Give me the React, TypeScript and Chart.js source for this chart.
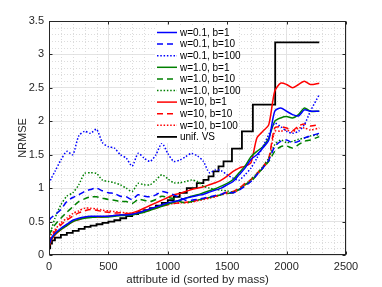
import React, { useEffect, useRef } from "react";
import { Chart, registerables } from "chart.js";
Chart.register(...registerables);

const X = [0, 20, 50, 100, 150, 200, 250, 300, 350, 400, 450, 500, 550, 600, 650, 700, 750, 800, 850, 900, 950, 1000, 1050, 1100, 1150, 1200, 1250, 1300, 1350, 1400, 1450, 1500, 1550, 1600, 1650, 1700, 1750, 1800, 1850, 1900, 1950, 2000, 2050, 2100, 2150, 2200, 2275];

const blueSolid = [0.15, 0.25, 0.32, 0.4, 0.46, 0.52, 0.55, 0.57, 0.58, 0.58, 0.58, 0.58, 0.59, 0.6, 0.6, 0.61, 0.63, 0.66, 0.69, 0.72, 0.75, 0.78, 0.8, 0.82, 0.85, 0.87, 0.89, 0.91, 0.94, 0.97, 1.0, 1.05, 1.1, 1.2, 1.3, 1.43, 1.5, 1.6, 1.72, 2.15, 2.2, 2.15, 2.1, 2.08, 2.17, 2.15, 2.15];
const blueDashed = [0.52, 0.56, 0.6, 0.68, 0.8, 0.86, 0.9, 0.95, 0.98, 1.0, 0.96, 0.93, 0.92, 0.88, 0.87, 0.83, 0.9, 0.88, 0.87, 0.9, 0.95, 0.93, 0.9, 0.86, 0.82, 0.82, 0.83, 0.85, 0.87, 0.89, 0.91, 0.94, 0.93, 0.97, 1.03, 1.1, 1.2, 1.3, 1.42, 1.62, 1.7, 1.72, 1.68, 1.7, 1.75, 1.78, 1.82];
const blueDotted = [1.07, 1.15, 1.25, 1.42, 1.55, 1.5, 1.78, 1.85, 1.82, 1.88, 1.68, 1.62, 1.6, 1.5, 1.45, 1.33, 1.52, 1.45, 1.4, 1.5, 1.67, 1.52, 1.4, 1.42, 1.47, 1.52, 1.48, 1.4, 1.23, 1.27, 1.26, 1.2, 1.15, 1.12, 1.2, 1.3, 1.45, 1.62, 1.8, 1.97, 1.92, 1.85, 1.82, 1.85, 1.95, 2.15, 2.4];
const greenSolid = [0.15, 0.24, 0.31, 0.38, 0.44, 0.5, 0.53, 0.55, 0.56, 0.57, 0.57, 0.57, 0.58, 0.59, 0.59, 0.6, 0.62, 0.64, 0.67, 0.7, 0.73, 0.76, 0.79, 0.82, 0.85, 0.88, 0.9, 0.93, 0.96, 0.99, 1.03, 1.07, 1.13, 1.23, 1.33, 1.47, 1.55, 1.62, 1.75, 2.0, 2.05, 2.07, 2.05, 2.1, 2.2, 2.15, 2.15];
const greenDashed = [0.3, 0.36, 0.45, 0.55, 0.64, 0.72, 0.8, 0.84, 0.87, 0.87, 0.85, 0.83, 0.82, 0.8, 0.8, 0.77, 0.83, 0.82, 0.8, 0.83, 0.88, 0.86, 0.84, 0.8, 0.78, 0.8, 0.82, 0.84, 0.86, 0.88, 0.9, 0.92, 0.93, 0.98, 1.05, 1.1, 1.2, 1.3, 1.4, 1.55, 1.62, 1.63, 1.6, 1.65, 1.7, 1.72, 1.77];
const greenDotted = [0.25, 0.38, 0.55, 0.75, 0.88, 0.93, 1.05, 1.22, 1.23, 1.22, 1.12, 1.1, 1.08, 1.05, 1.0, 0.95, 1.07, 1.05, 1.05, 1.12, 1.2, 1.14, 1.08, 1.08, 1.1, 1.12, 1.1, 1.03, 1.0, 0.98, 0.97, 0.96, 0.94, 0.98, 1.05, 1.13, 1.22, 1.32, 1.45, 1.65, 1.72, 1.68, 1.7, 1.73, 1.75, 1.78, 1.8];
const redSolid = [0.12, 0.22, 0.3, 0.38, 0.44, 0.5, 0.53, 0.56, 0.57, 0.57, 0.57, 0.58, 0.59, 0.6, 0.61, 0.63, 0.66, 0.7, 0.74, 0.78, 0.82, 0.86, 0.9, 0.92, 0.95, 0.98, 1.0, 1.02, 1.05, 1.08, 1.12, 1.18, 1.25, 1.3, 1.33, 1.38, 1.75, 1.85, 1.95, 2.45, 2.57, 2.55, 2.5, 2.55, 2.6, 2.55, 2.57];
const redDashed = [0.18, 0.27, 0.35, 0.45, 0.52, 0.58, 0.63, 0.66, 0.68, 0.67, 0.65, 0.64, 0.63, 0.63, 0.62, 0.62, 0.63, 0.65, 0.67, 0.7, 0.73, 0.75, 0.77, 0.78, 0.79, 0.8, 0.82, 0.84, 0.86, 0.88, 0.91, 0.94, 0.95, 1.0, 1.07, 1.13, 1.22, 1.32, 1.45, 1.9, 1.92, 1.9, 1.86, 1.93, 1.96, 1.93, 1.95];
const redDotted = [0.2, 0.3, 0.38, 0.48, 0.55, 0.62, 0.66, 0.7, 0.7, 0.69, 0.67, 0.66, 0.65, 0.64, 0.63, 0.62, 0.64, 0.66, 0.68, 0.71, 0.74, 0.76, 0.77, 0.78, 0.78, 0.79, 0.81, 0.83, 0.85, 0.87, 0.9, 0.92, 0.93, 0.98, 1.05, 1.12, 1.2, 1.3, 1.42, 1.85, 1.85, 1.87, 1.84, 1.9, 1.9, 1.87, 1.9];

const unifX = [0, 10, 25, 50, 100, 150, 200, 250, 300, 350, 400, 450, 500, 550, 600, 650, 700, 750, 800, 850, 900, 950, 1000, 1050, 1100, 1160, 1244, 1300, 1343, 1385, 1427, 1469, 1540, 1624, 1716, 1904, 2275];
const unifVS = [0.1, 0.17, 0.22, 0.26, 0.3, 0.33, 0.36, 0.39, 0.42, 0.44, 0.46, 0.48, 0.5, 0.52, 0.55, 0.58, 0.61, 0.64, 0.67, 0.7, 0.74, 0.78, 0.82, 0.87, 0.93, 1.0, 1.075, 1.125, 1.175, 1.25, 1.325, 1.4, 1.59, 1.85, 2.25, 3.18, 3.18];

const LABELS = ["w=0.1, b=1", "w=0.1, b=10", "w=0.1, b=100", "w=1.0, b=1", "w=1.0, b=10", "w=1.0, b=100", "w=10, b=1", "w=10, b=10", "w=10, b=100", "unif. VS"];
const X_TICKS = [0, 500, 1000, 1500, 2000, 2500];
const Y_TICKS = [0, 0.5, 1, 1.5, 2, 2.5, 3, 3.5];

const BLUE = "#0000ff";
const GREEN = "#008000";
const RED = "#ff0000";
const DASH = [6, 4];
const DOT = [1.5, 1.8];
const FONT = "'Liberation Sans', Arial, Helvetica, sans-serif";
const AXIS_COLOR = "#262626";

const pts = (xs: number[], ys: number[]) => xs.map((x, i) => ({ x, y: ys[i] }));

const extras = {
  id: "matlabExtras",
  beforeDatasetsDraw(chart: any) {
    const { ctx, chartArea: a, scales } = chart;
    const xs = scales.x, ys = scales.y;
    ctx.save();
    ctx.strokeStyle = "#dcdcdc";
    ctx.lineWidth = 1;
    ctx.setLineDash([1, 2]);
    for (let v = 100; v < 2500; v += 100) {
      if (v % 500 === 0) continue;
      const p = Math.round(xs.getPixelForValue(v)) + 0.5;
      ctx.beginPath(); ctx.moveTo(p, a.top); ctx.lineTo(p, a.bottom); ctx.stroke();
    }
    for (let k = 1; k < 35; k++) {
      if (k % 5 === 0) continue;
      const p = Math.round(ys.getPixelForValue(k / 10)) + 0.5;
      ctx.beginPath(); ctx.moveTo(a.left, p); ctx.lineTo(a.right, p); ctx.stroke();
    }
    ctx.restore();
  },
  afterDatasetsDraw(chart: any) {
    const { ctx, chartArea: a, scales } = chart;
    const xs = scales.x, ys = scales.y;
    ctx.save();
    ctx.strokeStyle = AXIS_COLOR;
    ctx.lineWidth = 1;
    ctx.setLineDash([]);
    const L = Math.round(a.left) + 0.5, R = Math.round(a.right) - 0.5;
    const T = Math.round(a.top) + 0.5, B = Math.round(a.bottom) - 0.5;
    ctx.strokeRect(L, T, R - L, B - T);
    ctx.beginPath();
    X_TICKS.forEach((v) => {
      const p = Math.round(xs.getPixelForValue(v)) + 0.5;
      ctx.moveTo(p, B); ctx.lineTo(p, B - 3);
      ctx.moveTo(p, T); ctx.lineTo(p, T + 3);
    });
    Y_TICKS.forEach((v) => {
      const p = Math.round(ys.getPixelForValue(v)) + 0.5;
      ctx.moveTo(L, p); ctx.lineTo(L + 3, p);
      ctx.moveTo(R, p); ctx.lineTo(R - 3, p);
    });
    ctx.stroke();

    // legend
    const lx = 155, ly = 25, lw = 84, lh = 118;
    ctx.fillStyle = "#ffffff";
    ctx.fillRect(lx, ly, lw, lh);
    ctx.font = `10px ${FONT}`;
    ctx.textBaseline = "middle";
    ctx.textAlign = "left";
    chart.data.datasets.forEach((ds: any, i: number) => {
      const y = 32.5 + i * 11.6;
      ctx.strokeStyle = ds.borderColor;
      ctx.lineWidth = ds.borderWidth;
      ctx.setLineDash(ds.borderDash || []);
      ctx.beginPath(); ctx.moveTo(157, y); ctx.lineTo(177, y); ctx.stroke();
      ctx.setLineDash([]);
      ctx.fillStyle = "#000000";
      ctx.fillText(ds.label, 180, y + 0.5);
    });
    ctx.restore();
  },
};

export default function App() {
  const ref = useRef<HTMLCanvasElement | null>(null);
  useEffect(() => {
    if (!ref.current) return;
    const mk = (label: string, ys: number[], color: string, dash: number[]) => ({
      label, data: pts(X, ys), borderColor: color, backgroundColor: color,
      borderWidth: 1.5, borderDash: dash, pointRadius: 0, tension: 0.25, fill: false,
    });
    const chart = new Chart(ref.current, {
      type: "line",
      data: {
        datasets: [
          mk(LABELS[0], blueSolid, BLUE, []),
          mk(LABELS[1], blueDashed, BLUE, DASH),
          mk(LABELS[2], blueDotted, BLUE, DOT),
          mk(LABELS[3], greenSolid, GREEN, []),
          mk(LABELS[4], greenDashed, GREEN, DASH),
          mk(LABELS[5], greenDotted, GREEN, DOT),
          mk(LABELS[6], redSolid, RED, []),
          mk(LABELS[7], redDashed, RED, DASH),
          mk(LABELS[8], redDotted, RED, DOT),
          {
            label: LABELS[9], data: pts(unifX, unifVS), borderColor: "#000000", backgroundColor: "#000000",
            borderWidth: 1.8, borderDash: [], pointRadius: 0, stepped: "before", fill: false,
          } as any,
        ],
      },
      options: {
        animation: false,
        responsive: false,
        events: [],
        layout: { padding: { left: 0, right: 36, top: 21, bottom: 0 } },
        plugins: { legend: { display: false }, tooltip: { enabled: false } },
        scales: {
          x: {
            type: "linear", min: 0, max: 2500,
            afterBuildTicks: (s: any) => { s.ticks = X_TICKS.map((v) => ({ value: v })); },
            afterFit: (s: any) => { s.height = 32; },
            grid: { color: "#e3e3e3", drawTicks: false },
            border: { display: false },
            ticks: { color: AXIS_COLOR, font: { family: FONT, size: 11 }, padding: 5, autoSkip: false, maxRotation: 0, callback: (v: any) => String(v) },
            title: { display: true, text: "attribute id (sorted by mass)", color: AXIS_COLOR, font: { family: FONT, size: 11.5 }, padding: { top: 0, bottom: 0 } },
          },
          y: {
            type: "linear", min: 0, max: 3.5,
            afterBuildTicks: (s: any) => { s.ticks = Y_TICKS.map((v) => ({ value: v })); },
            afterFit: (s: any) => { s.width = 49; },
            grid: { color: "#e3e3e3", drawTicks: false },
            border: { display: false },
            ticks: { color: AXIS_COLOR, font: { family: FONT, size: 11 }, padding: 5, callback: (v: any) => String(v) },
            title: { display: true, text: "NRMSE", color: AXIS_COLOR, font: { family: FONT, size: 11 }, padding: { top: 16, bottom: 0 } },
          },
        },
      },
      plugins: [extras],
    } as any);
    return () => chart.destroy();
  }, []);
  return (
    <div style={{ position: "absolute", left: 0, top: 0, width: 382, height: 287, background: "#ffffff" }}>
      <canvas ref={ref} width={382} height={287} style={{ width: 382, height: 287, display: "block" }} />
    </div>
  );
}
